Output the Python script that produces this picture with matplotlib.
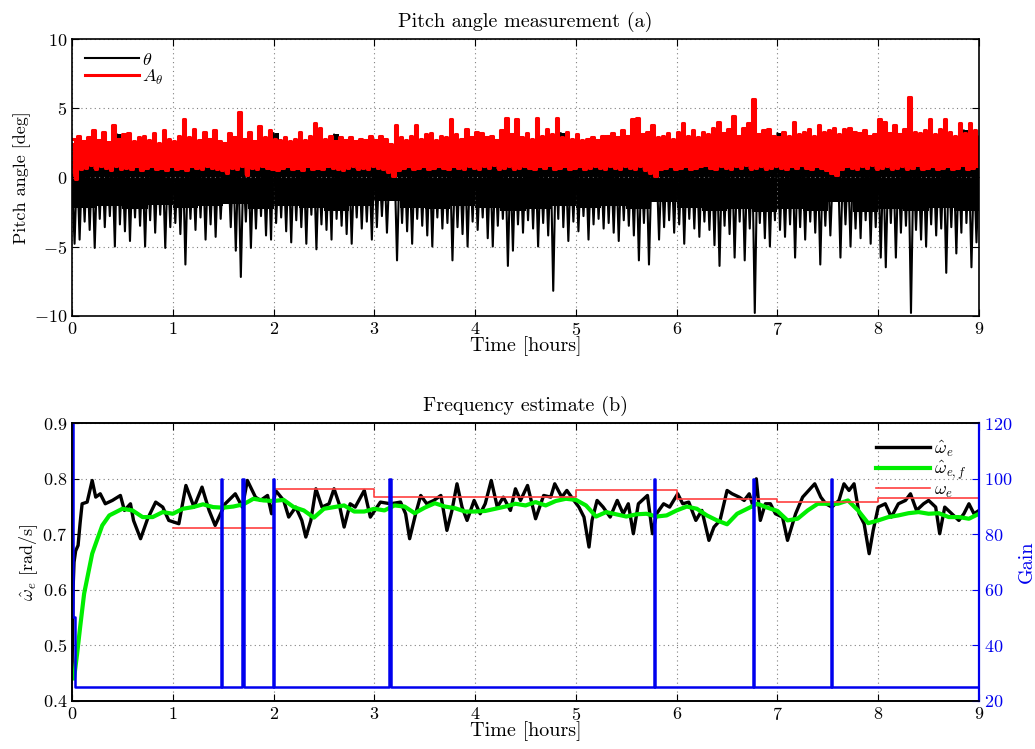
import numpy as np
import matplotlib
matplotlib.use("Agg")
import matplotlib.pyplot as plt

plt.rcParams['font.family'] = 'serif'
plt.rcParams['font.serif'] = ['cmr10']
plt.rcParams['mathtext.fontset'] = 'cm'
plt.rcParams['axes.formatter.use_mathtext'] = True
plt.rcParams['font.size'] = 13

# ---- panel (a): pitch angle, one sample every 0.05 h (peak high / peak low) ----
dt_a = 0.05
theta_hi = [0.2, 1.1, 0.9, 1.2, 1.0, 0.8, 1.3, 1.0, 0.9, 3.1,
            1.0, 1.2, 0.9, 1.1, 0.8, 1.0, 1.2, 0.9, 1.1, 1.0,
            0.9, 1.1, 1.3, 1.0, 0.8, 1.2, 1.0, 0.9, 1.1, 1.0,
            0.6, 1.0, 1.2, 1.3, 0.7, 1.1, 0.9, 1.2, 1.0, 1.1,
            3.2, 1.0, 0.9, 1.2, 1.0, 1.1, 0.8, 1.0, 1.2, 0.9,
            1.1, 1.0, 3.1, 0.9, 1.2, 1.0, 0.8, 1.1, 1.0, 0.9,
            1.2, 1.0, 0.8, 0.5, 1.1, 1.0, 1.2, 0.9, 1.1, 1.0,
            0.9, 1.2, 1.0, 1.1, 0.8, 1.3, 1.0, 0.9, 1.2, 1.0,
            1.1, 0.9, 1.2, 1.0, 0.8, 1.1, 1.3, 1.0, 1.2, 0.9,
            1.0, 1.1, 1.2, 0.9, 1.0, 1.3, 1.1, 3.2, 1.0, 0.9,
            1.2, 1.0, 0.9, 1.1, 1.0, 0.8, 1.2, 1.0, 1.1, 0.9,
            1.0, 1.2, 1.3, 1.0, 1.1, 0.5, 1.0, 0.9, 1.2, 1.0,
            1.1, 1.2, 0.9, 1.0, 1.1, 1.0, 0.9, 1.2, 1.3, 1.0,
            1.1, 1.3, 0.9, 1.2, 1.0, 1.4, 1.0, 1.1, 1.2, 0.9,
            3.2, 1.0, 1.1, 1.2, 0.9, 1.0, 1.1, 1.0, 1.2, 0.9,
            1.0, 0.5, 1.2, 1.0, 1.1, 0.9, 1.0, 1.2, 1.0, 1.1,
            1.2, 1.3, 1.0, 1.1, 0.9, 1.0, 1.4, 1.1, 1.0, 1.2,
            1.1, 1.0, 0.9, 1.2, 1.0, 1.1, 1.0, 3.4, 1.2, 1.0,
            1.1]
theta_lo = [-4.8, -4.5, -3.2, -3.8, -5.1, -3.0, -3.6, -2.8, -5.0, -3.4,
            -3.9, -4.6, -2.9, -3.5, -5.0, -3.1, -4.0, -2.7, -5.1, -3.6,
            -3.3, -4.1, -6.3, -3.0, -3.8, -2.9, -4.5, -3.4, -4.3, -3.0,
            -1.1, -3.6, -5.3, -7.2, -3.2, -5.1, -3.7, -2.8, -4.2, -4.5,
            -3.3, -2.9, -3.9, -4.7, -3.1, -3.6, -4.8, -2.7, -5.2, -3.4,
            -3.8, -4.5, -3.0, -3.5, -4.1, -4.8, -2.9, -3.7, -3.2, -4.5,
            -3.6, -2.8, -4.0, -1.0, -6.0, -3.3, -3.9, -4.8, -3.0, -3.5,
            -4.2, -5.0, -2.9, -3.7, -3.3, -6.0, -3.6, -4.1, -5.0, -3.2,
            -3.8, -2.9, -4.4, -5.0, -3.5, -3.0, -6.4, -5.3, -3.4, -4.0,
            -3.1, -3.7, -5.0, -3.3, -4.2, -8.2, -3.0, -3.6, -4.6, -3.2,
            -3.9, -2.8, -4.5, -3.4, -3.0, -3.7, -3.3, -4.0, -4.6, -3.1,
            -3.5, -4.2, -6.0, -3.3, -6.3, -1.3, -4.5, -3.6, -3.1, -4.0,
            -3.4, -4.8, -3.0, -3.7, -4.3, -3.2, -3.8, -4.9, -6.4, -3.5,
            -4.1, -5.8, -3.2, -6.0, -3.7, -9.8, -3.3, -4.4, -5.0, -3.1,
            -3.8, -4.3, -3.4, -5.8, -3.6, -4.5, -3.2, -4.0, -6.3, -3.5,
            -4.2, -1.2, -5.8, -3.4, -5.0, -3.7, -4.4, -3.1, -4.8, -3.6,
            -5.8, -6.5, -3.3, -5.8, -4.0, -3.5, -9.8, -3.8, -4.5, -5.0,
            -3.4, -4.2, -3.7, -6.9, -3.6, -5.5, -4.0, -3.3, -6.5, -4.7,
            -3.9]
amp_hi = [2.8, 3.0, 2.6, 2.9, 3.4, 2.7, 3.3, 2.5, 3.8, 2.8,
          3.1, 3.2, 2.6, 2.9, 3.0, 2.7, 3.2, 2.5, 3.4, 2.8,
          2.6, 3.0, 4.2, 2.9, 3.5, 2.7, 3.3, 2.8, 3.4, 2.6,
          2.5, 3.2, 2.9, 4.7, 2.8, 3.3, 2.6, 3.7, 2.9, 3.4,
          2.8, 2.7, 2.9, 2.6, 2.8, 3.3, 2.7, 3.0, 3.9, 3.6,
          2.8, 3.0, 2.6, 2.9, 2.7, 2.9, 2.6, 2.8, 2.7, 3.0,
          2.7, 3.0, 2.8, 2.4, 3.8, 2.9, 2.7, 3.0, 3.8, 2.8,
          3.1, 3.2, 2.7, 3.0, 2.9, 4.2, 3.1, 2.8, 3.5, 2.9,
          3.3, 3.2, 2.9, 3.0, 2.7, 3.4, 4.3, 3.1, 4.2, 2.9,
          3.2, 2.8, 4.3, 3.0, 3.5, 3.1, 4.3, 2.9, 3.3, 2.8,
          3.1, 2.7, 2.8, 2.9, 2.7, 3.0, 3.0, 3.2, 2.9, 3.4,
          3.0, 4.2, 4.3, 3.1, 3.3, 3.8, 2.9, 3.0, 3.2, 2.8,
          3.3, 3.9, 3.0, 3.4, 2.9, 3.3, 3.1, 3.6, 4.0, 3.2,
          3.5, 4.4, 3.0, 3.6, 3.9, 5.7, 3.1, 3.4, 3.5, 3.0,
          2.9, 3.3, 3.0, 4.0, 3.1, 3.3, 3.5, 3.0, 3.8, 3.3,
          3.4, 3.6, 3.1, 3.5, 3.6, 3.3, 3.2, 3.4, 3.0, 3.1,
          4.2, 4.0, 3.2, 3.8, 3.1, 3.5, 5.8, 3.3, 3.2, 3.4,
          4.2, 3.1, 3.5, 4.2, 3.3, 3.0, 3.9, 3.2, 3.9, 3.4,
          3.0]
amp_lo = [-0.1, 0.6, 0.7, 0.9, 0.6, 0.8, 0.7, 0.5, 0.8, 0.6,
          0.7, 0.6, 0.8, 0.5, 0.7, 0.8, 0.6, 0.7, 0.5, 0.8,
          0.6, 0.7, 0.5, 0.8, 0.7, 0.6, 0.8, 0.7, 0.6, 0.5,
          0.35, 0.7, 0.6, 0.8, 0.2, 0.7, 0.6, 0.8, 0.7, 0.6,
          0.5, 0.7, 0.8, 0.6, 0.7, 0.5, 0.8, 0.6, 0.7, 0.6,
          0.8, 0.7, 0.6, 0.5, 0.7, 0.8, 0.6, 0.7, 0.6, 0.8,
          0.7, 0.6, 0.4, 0.1, 0.5, 0.7, 0.8, 0.6, 0.7, 0.8,
          0.6, 0.7, 0.8, 0.7, 0.6, 0.8, 0.7, 0.6, 0.8, 0.7,
          0.6, 0.8, 0.7, 0.9, 0.6, 0.7, 0.8, 0.6, 0.7, 0.8,
          0.7, 0.6, 0.8, 0.7, 0.9, 0.6, 0.7, 0.8, 0.6, 0.7,
          0.8, 0.6, 0.7, 0.8, 0.7, 0.6, 0.8, 0.7, 0.6, 0.8,
          0.7, 0.6, 0.8, 0.5, 0.3, 0.1, 0.6, 0.7, 0.8, 0.6,
          0.7, 0.8, 0.6, 0.7, 0.8, 0.9, 0.7, 0.6, 0.8, 0.7,
          0.6, 0.8, 0.7, 0.9, 0.6, 0.7, 0.8, 0.6, 0.7, 0.8,
          0.7, 0.6, 0.8, 0.7, 0.9, 0.7, 0.6, 0.8, 0.7, 0.5,
          0.3, 0.2, 0.6, 0.8, 0.7, 0.6, 0.8, 0.7, 0.9, 0.6,
          0.7, 0.8, 0.6, 0.7, 0.8, 0.6, 0.7, 0.9, 0.6, 0.7,
          0.8, 0.6, 0.7, 0.8, 0.6, 0.7, 0.9, 0.6, 0.7, 0.8,
          0.7]
# edges of the dense (solid) part of each trace, one value per 0.25 h
dt_core = 0.25
theta_core = [-2.2, -2.1, -2.3, -2.0, -2.2, -2.1, -1.9, -2.3, -2.1, -2.2,
              -2.4, -2.1, -1.7, -2.2, -2.3, -2.1, -2.2, -2.4, -2.3, -2.1,
              -2.2, -2.1, -2.3, -1.8, -2.2, -2.4, -2.3, -2.5, -2.3, -2.4,
              -1.8, -2.5, -2.3, -2.4, -2.2, -2.4, -2.3]
amp_core = [2.5, 2.6, 2.4, 2.5, 2.6, 2.5, 2.4, 2.7, 2.6, 2.4,
            2.5, 2.4, 2.3, 2.5, 2.6, 2.5, 2.6, 2.7, 2.5, 2.6,
            2.5, 2.4, 2.6, 2.5, 2.6, 2.5, 2.7, 2.6, 2.5, 2.7,
            2.4, 2.7, 2.6, 2.7, 2.6, 2.7, 2.6]

# ---- panel (b): frequency estimate ----
w_t = [0.0, 0.01, 0.02, 0.036, 0.06, 0.08, 0.1, 0.15, 0.2, 0.235, 0.28, 0.33,
       0.4, 0.48, 0.52, 0.58, 0.61, 0.68, 0.75, 0.83, 0.9, 0.96, 1.06, 1.13,
       1.21, 1.29, 1.36, 1.42, 1.52, 1.62, 1.69, 1.74, 1.82, 1.87, 1.94, 1.98,
       2.02, 2.1, 2.15, 2.22, 2.28, 2.32, 2.37, 2.42, 2.48, 2.55, 2.6, 2.65,
       2.7, 2.76, 2.81, 2.9, 2.96, 3.06, 3.16, 3.26, 3.31, 3.35, 3.41, 3.46,
       3.52, 3.59, 3.66, 3.72, 3.77, 3.82, 3.87, 3.92, 3.99, 4.05, 4.1, 4.16,
       4.22, 4.28, 4.35, 4.4, 4.45, 4.52, 4.6, 4.68, 4.75, 4.79, 4.86, 4.91,
       4.98, 5.03, 5.08, 5.13, 5.16, 5.21, 5.27, 5.34, 5.41, 5.47, 5.52, 5.57,
       5.62, 5.71, 5.76, 5.8, 5.87, 5.93, 6.01, 6.06, 6.12, 6.19, 6.25, 6.32,
       6.37, 6.43, 6.5, 6.55, 6.62, 6.67, 6.72, 6.76, 6.79, 6.83, 6.88, 6.93,
       6.98, 7.05, 7.1, 7.13, 7.18, 7.25, 7.31, 7.37, 7.43, 7.48, 7.54, 7.61,
       7.66, 7.71, 7.76, 7.81, 7.86, 7.91, 7.95, 8.0, 8.07, 8.13, 8.2, 8.27,
       8.32, 8.38, 8.45, 8.5, 8.57, 8.61, 8.66, 8.73, 8.8, 8.85, 8.9, 8.95, 9.0]
w_hat = [0.45, 0.6, 0.65, 0.67, 0.68, 0.72, 0.755, 0.758, 0.797, 0.767, 0.773, 0.755,
         0.761, 0.77, 0.743, 0.755, 0.725, 0.692, 0.728, 0.758, 0.749, 0.725, 0.719, 0.788,
         0.749, 0.785, 0.743, 0.716, 0.755, 0.773, 0.749, 0.797, 0.767, 0.761, 0.77, 0.737,
         0.779, 0.761, 0.731, 0.749, 0.725, 0.695, 0.725, 0.782, 0.749, 0.755, 0.782, 0.755,
         0.713, 0.755, 0.749, 0.779, 0.731, 0.758, 0.755, 0.758, 0.737, 0.692, 0.737, 0.77,
         0.755, 0.761, 0.77, 0.707, 0.743, 0.791, 0.749, 0.725, 0.761, 0.737, 0.755, 0.797,
         0.749, 0.767, 0.743, 0.782, 0.761, 0.788, 0.728, 0.77, 0.767, 0.791, 0.767, 0.779,
         0.761, 0.749, 0.731, 0.677, 0.725, 0.761, 0.749, 0.731, 0.761, 0.737, 0.755, 0.701,
         0.755, 0.77, 0.701, 0.737, 0.755, 0.749, 0.773, 0.755, 0.758, 0.725, 0.743, 0.689,
         0.713, 0.725, 0.779, 0.773, 0.767, 0.761, 0.773, 0.749, 0.8, 0.725, 0.755, 0.755,
         0.737, 0.731, 0.689, 0.707, 0.737, 0.767, 0.779, 0.791, 0.767, 0.755, 0.749, 0.761,
         0.791, 0.779, 0.791, 0.737, 0.719, 0.665, 0.707, 0.749, 0.755, 0.731, 0.755, 0.761,
         0.773, 0.743, 0.755, 0.761, 0.749, 0.701, 0.749, 0.737, 0.725, 0.737, 0.755, 0.737, 0.743]

wf_t = [0.02, 0.05, 0.08, 0.12, 0.15, 0.2, 0.235, 0.3, 0.37, 0.5, 0.6, 0.7, 0.8, 0.9,
        1.0, 1.1, 1.2, 1.3, 1.4, 1.5, 1.6, 1.7, 1.8, 1.9, 2.0, 2.1, 2.2, 2.3, 2.4,
        2.5, 2.6, 2.7, 2.8, 2.9, 3.0, 3.1, 3.2, 3.3, 3.4, 3.5, 3.6, 3.7, 3.8, 3.9,
        4.0, 4.1, 4.2, 4.3, 4.4, 4.5, 4.6, 4.7, 4.8, 4.9, 5.0, 5.1, 5.2, 5.3, 5.4,
        5.5, 5.6, 5.7, 5.8, 5.9, 6.0, 6.1, 6.2, 6.3, 6.4, 6.5, 6.6, 6.7, 6.8, 6.9,
        7.0, 7.1, 7.2, 7.3, 7.4, 7.5, 7.6, 7.7, 7.8, 7.9, 8.0, 8.1, 8.2, 8.3, 8.4,
        8.5, 8.6, 8.7, 8.8, 8.9, 9.0]
w_filt = [0.44, 0.484, 0.532, 0.593, 0.62, 0.665, 0.683, 0.716, 0.734, 0.746, 0.743, 0.731,
          0.731, 0.74, 0.737, 0.746, 0.749, 0.754, 0.749, 0.748, 0.75, 0.754, 0.764, 0.761,
          0.76, 0.762, 0.749, 0.743, 0.73, 0.746, 0.749, 0.752, 0.741, 0.741, 0.746, 0.743,
          0.752, 0.75, 0.738, 0.748, 0.756, 0.75, 0.747, 0.741, 0.741, 0.742, 0.746, 0.75,
          0.755, 0.752, 0.758, 0.752, 0.76, 0.764, 0.762, 0.752, 0.732, 0.74, 0.736, 0.732,
          0.736, 0.737, 0.732, 0.734, 0.743, 0.75, 0.746, 0.734, 0.725, 0.718, 0.737, 0.746,
          0.755, 0.748, 0.742, 0.725, 0.728, 0.743, 0.755, 0.755, 0.755, 0.761, 0.743, 0.72,
          0.725, 0.731, 0.734, 0.738, 0.74, 0.737, 0.738, 0.731, 0.731, 0.728, 0.737]

# true frequency, piecewise constant per hour
we_edges = [1, 2, 3, 5, 6, 7, 8, 9]
we_vals = [0.711, 0.781, 0.768, 0.779, 0.763, 0.759, 0.765]

# adaptive gain: start-up levels and reset instants
gain_start_t = [0.0, 0.01, 0.01, 0.03, 0.03]
gain_start_v = [120, 120, 50, 50, 25]
gain_base = 25
gain_peak = 100
gain_hold = 0.012
gain_resets = [1.48, 1.69, 1.99, 3.15, 5.77, 6.76, 7.53]

# ---------------------------------------------------------------
fig = plt.figure(figsize=(10.35, 7.49), dpi=100)
ax1 = fig.add_axes([0.0696, 0.5785, 0.8763, 0.3694])
ax2 = fig.add_axes([0.0696, 0.0645, 0.8763, 0.3703])

grid_kw = dict(linestyle=(0, (1, 3)), color='0.5', lw=0.8)

t_a = np.arange(len(theta_lo)) * dt_a
n_rep = int(round(dt_core / dt_a))
theta_core_s = np.repeat(theta_core, n_rep)[:len(t_a)]
amp_core_s = np.repeat(amp_core, n_rep)[:len(t_a)]
tz = np.column_stack([t_a, t_a + dt_a / 2]).ravel()
th_z = np.column_stack([theta_hi, theta_lo]).ravel()
am_z = np.column_stack([amp_hi, amp_lo]).ravel()

ax1.fill_between(t_a, theta_core_s, theta_hi, step='post', color='k', lw=0)
ax1.plot(tz, th_z, color='k', lw=1.5, label=r'$\theta$')
ax1.fill_between(t_a, amp_lo, amp_core_s, step='post', color='#ff0000', lw=0)
ax1.plot(tz, am_z, color='#ff0000', lw=2.2, drawstyle='steps-post',
         label=r'$A_\theta$')
ax1.set_xlim(0, 9)
ax1.set_ylim(-10, 10)
ax1.set_xticks(range(10))
ax1.set_yticks([-10, -5, 0, 5, 10])
ax1.grid(True, **grid_kw)
ax1.tick_params(direction='in', top=True, right=True, length=5)
ax1.set_title('Pitch angle measurement (a)', fontsize=14.5, pad=9)
ax1.set_xlabel('Time [hours]', fontsize=14.5, labelpad=-1)
ax1.set_ylabel('Pitch angle [deg]', labelpad=2)
ax1.legend(loc='upper left', frameon=False, handlelength=3.0,
           labelspacing=0.0, borderaxespad=0.3, handletextpad=0.2)
for s in ax1.spines.values():
    s.set_linewidth(1.2)

ax2.plot(w_t, w_hat, color='k', lw=2.4, label=r'$\hat{\omega}_e$')
ax2.plot(wf_t, w_filt, color='#00ee00', lw=3.0, label=r'$\hat{\omega}_{e,f}$')
ax2.plot(we_edges, we_vals + [we_vals[-1]], color='#ff4040', lw=1.2,
         drawstyle='steps-post', label=r'$\omega_e$')
ax2.set_xlim(0, 9)
ax2.set_ylim(0.4, 0.9)
ax2.set_xticks(range(10))
ax2.set_yticks([0.4, 0.5, 0.6, 0.7, 0.8, 0.9])
ax2.grid(True, **grid_kw)
ax2.tick_params(direction='in', top=True, length=5)
ax2.set_title('Frequency estimate (b)', fontsize=14.5, pad=9)
ax2.set_xlabel('Time [hours]', fontsize=14.5, labelpad=-1)
ax2.set_ylabel(r'$\hat{\omega}_e$ [rad/s]', labelpad=2)
ax2.legend(loc='upper right', frameon=False, handlelength=3.0,
           labelspacing=0.0, borderaxespad=0.3, handletextpad=0.2,
           bbox_to_anchor=(1.0, 0.99))

g_t = list(gain_start_t)
g_v = list(gain_start_v)
for r in gain_resets:
    g_t += [r, r, r + gain_hold, r + gain_hold]
    g_v += [gain_base, gain_peak, gain_peak, gain_base]
g_t.append(9.0)
g_v.append(gain_base)

ax3 = ax2.twinx()
ax3.plot(g_t, g_v, color='#0000ee', lw=1.8)
ax3.set_ylim(20, 120)
ax3.set_yticks([20, 40, 60, 80, 100, 120])
ax3.set_xlim(0, 9)
ax3.tick_params(axis='y', direction='in', colors='#0000ee', length=5)
ax3.set_ylabel('Gain', color='#0000ee', fontsize=14.5, labelpad=4)
ax3.spines['right'].set_color('#0000ee')
for s in ax2.spines.values():
    s.set_linewidth(1.2)
for s in ax3.spines.values():
    s.set_linewidth(1.2)
ax3.spines['right'].set_linewidth(1.6)

fig.savefig('out.png', dpi=100)
